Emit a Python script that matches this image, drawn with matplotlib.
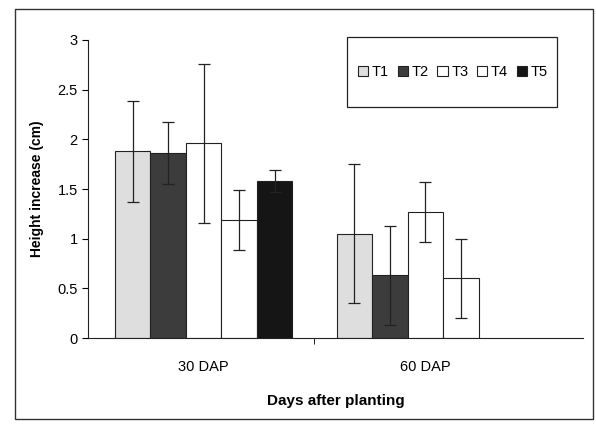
import matplotlib.pyplot as plt
import numpy as np
from matplotlib.patches import Rectangle

plt.rcParams['font.family'] = ['Liberation Sans', 'DejaVu Sans']

categories = ['30 DAP', '60 DAP']
series = ['T1', 'T2', 'T3', 'T4', 'T5']
means = {
    'T1': [1.88, 1.05],
    'T2': [1.86, 0.63],
    'T3': [1.96, 1.27],
    'T4': [1.19, 0.60],
    'T5': [1.58, 0.0],
}
errs = {
    'T1': [0.51, 0.70],
    'T2': [0.31, 0.50],
    'T3': [0.80, 0.30],
    'T4': [0.30, 0.40],
    'T5': [0.11, 0.0],
}
colors = ['#dedede', '#3c3c3c', '#ffffff', '#ffffff', '#151515']

fig = plt.figure(figsize=(5.96, 4.34), dpi=100)
ax = fig.add_axes([0.148, 0.221, 0.83, 0.687])

x = np.arange(len(categories))
w = 0.16
for i, s in enumerate(series):
    pos = x + (i - 2) * w
    vals = np.array(means[s])
    e = np.array(errs[s])
    mask = vals > 0
    ax.bar(pos[mask], vals[mask], width=w, color=colors[i], edgecolor='#222222',
           linewidth=0.8, label=s)
    ax.errorbar(pos[mask], vals[mask], yerr=e[mask], fmt='none', ecolor='#222222',
                elinewidth=0.9, capsize=4, capthick=0.9)

ax.set_xlim(-0.52, 1.71)
ax.set_ylim(0, 3)
ax.set_yticks([0, 0.5, 1, 1.5, 2, 2.5, 3])
ax.set_yticklabels(['0', '0.5', '1', '1.5', '2', '2.5', '3'])
ax.set_xticks(x)
ax.set_xticklabels(categories)
ax.tick_params(axis='x', length=0, pad=16, labelsize=10.5)
ax.tick_params(axis='y', length=4, direction='out', labelsize=10.5)
ax.set_xticks([0.5], minor=True)
ax.tick_params(axis='x', which='minor', length=4, direction='out')
for sp in ['top', 'right']:
    ax.spines[sp].set_visible(False)
for sp in ['left', 'bottom']:
    ax.spines[sp].set_color('#222222')

ax.set_ylabel('Height increase (cm)', fontsize=10, fontweight='bold', labelpad=10)
ax.set_xlabel('Days after planting', fontsize=11, fontweight='bold', labelpad=14)

# legend box drawn separately (tall, narrow padding)
ax.add_patch(Rectangle((0.523, 0.775), 0.424, 0.235, transform=ax.transAxes,
                       fill=False, edgecolor='#222222', linewidth=0.9, clip_on=False))
ax.legend(loc='center', bbox_to_anchor=(0.737, 0.893), ncol=5, frameon=False,
          fontsize=10.5, handlelength=0.7, handleheight=0.7, handletextpad=0.25,
          columnspacing=0.6, borderpad=0.2)

fig.patches.append(Rectangle((0.025, 0.035), 0.97, 0.945, transform=fig.transFigure,
                             fill=False, edgecolor='#333333', linewidth=1.0))

fig.savefig('out.png', dpi=100)
